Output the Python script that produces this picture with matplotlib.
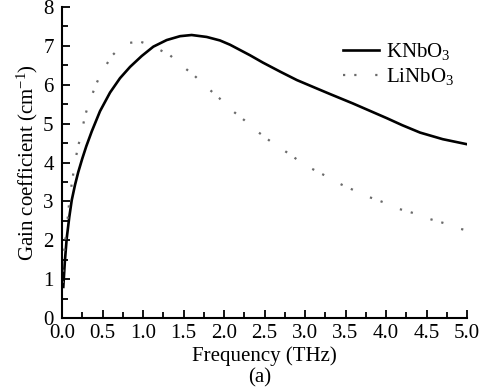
import numpy as np
import matplotlib
matplotlib.use("Agg")
import matplotlib.pyplot as plt
from matplotlib.ticker import MultipleLocator, FormatStrFormatter

plt.rcParams['font.family'] = ['Liberation Serif', 'DejaVu Serif']
plt.rcParams['mathtext.fontset'] = 'custom'
plt.rcParams['mathtext.rm'] = 'Liberation Serif'
plt.rcParams['mathtext.it'] = 'Liberation Serif:italic'
plt.rcParams['lines.scale_dashes'] = False

# KNbO3 gain curve
f_k = [0.016, 0.035, 0.058, 0.09, 0.12, 0.16, 0.2, 0.25, 0.3, 0.367,
       0.469, 0.593, 0.716, 0.84, 0.984, 1.127, 1.292, 1.457, 1.6, 1.786,
       1.95, 2.074, 2.32, 2.48, 2.7, 2.9, 3.15, 3.31, 3.59, 3.8, 4.01, 4.2,
       4.42, 4.7, 5.0]
g_k = [0.8, 1.45, 2.05, 2.6, 3.03, 3.42, 3.75, 4.1, 4.42, 4.8,
       5.32, 5.8, 6.17, 6.46, 6.74, 6.98, 7.15, 7.25, 7.28, 7.23,
       7.14, 7.03, 6.76, 6.57, 6.33, 6.12, 5.9, 5.76, 5.52, 5.33, 5.14, 4.96,
       4.77, 4.6, 4.47]

# LiNbO3 gain curve
f_l = [0.009, 0.016, 0.033, 0.05, 0.078, 0.09, 0.127, 0.148, 0.193, 0.23,
       0.284, 0.325, 0.416, 0.477, 0.613, 0.716, 0.84, 0.963, 1.095, 1.333,
       1.44, 1.642, 1.753, 1.94, 2.05, 2.25, 2.36, 2.57, 2.68, 2.9, 3.02,
       3.26, 3.38, 3.62, 3.74, 3.99, 4.12, 4.37, 4.5, 4.75, 4.89, 5.0]
g_l = [0.9, 1.41, 1.88, 2.18, 2.72, 3.03, 3.55, 3.83, 4.38, 4.66,
       5.2, 5.48, 5.99, 6.27, 6.74, 6.95, 7.08, 7.11, 7.02, 6.76,
       6.56, 6.22, 6.0, 5.66, 5.42, 5.09, 4.88, 4.55, 4.4, 4.08, 3.91,
       3.65, 3.5, 3.27, 3.15, 2.96, 2.83, 2.68, 2.57, 2.42, 2.31, 2.25]

fig = plt.figure(figsize=(4.86, 3.9), dpi=100)
ax = fig.add_axes([0.1276, 0.1846, 0.8334, 0.7974])

ax.plot(f_k, g_k, color='black', lw=1.9, label='KNbO$_3$')
ax.plot(f_l, g_l, color='#6a6a6a', lw=1.6,
        linestyle=(0, (1.6, 6.5, 1.6, 13.5)), label='LiNbO$_3$')

ax.set_xlim(0, 5)
ax.set_ylim(0, 8)
ax.xaxis.set_major_locator(MultipleLocator(0.5))
ax.xaxis.set_minor_locator(MultipleLocator(0.25))
ax.yaxis.set_major_locator(MultipleLocator(1))
ax.yaxis.set_minor_locator(MultipleLocator(0.5))
ax.xaxis.set_major_formatter(FormatStrFormatter('%.1f'))

for s in ['top', 'right']:
    ax.spines[s].set_visible(False)
for s in ['left', 'bottom']:
    ax.spines[s].set_linewidth(1.5)

ax.tick_params(which='both', direction='in', width=1.3, labelsize=15)
ax.tick_params(which='major', length=6)
ax.tick_params(which='minor', length=4)
ax.tick_params(axis='x', which='major', pad=4)
ax.tick_params(axis='y', which='major', pad=6)

ax.set_xlabel('Frequency (THz)', fontsize=15, labelpad=3)
ax.set_ylabel('Gain coefficient (cm$^{-1}$)', fontsize=15, labelpad=2)
fig.text(0.535, 0.03, '(a)', fontsize=15, ha='center', va='center')

ax.legend(loc='upper right', bbox_to_anchor=(1.015, 0.95), frameon=False,
          fontsize=15, handlelength=1.75, handletextpad=0.35,
          labelspacing=0.2)

fig.savefig('out.png', dpi=100)
